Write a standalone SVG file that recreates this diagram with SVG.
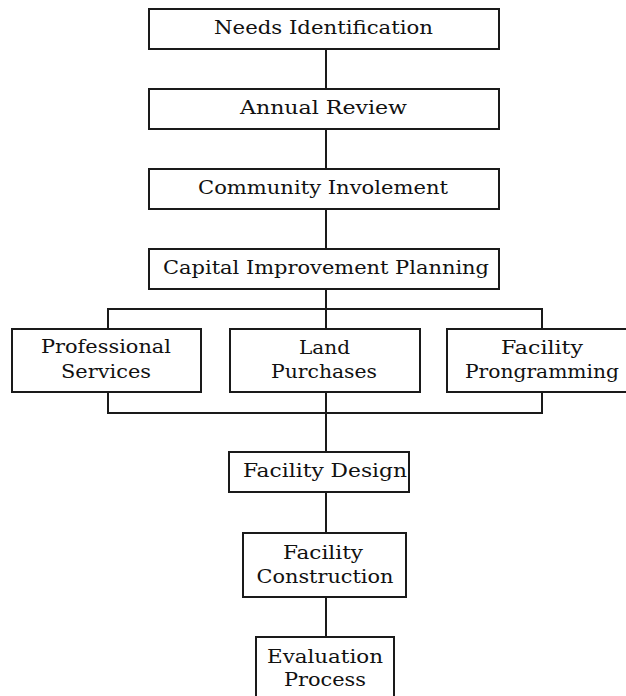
<svg xmlns="http://www.w3.org/2000/svg" width="626" height="696" viewBox="0 0 626 696">
<style>
.box{fill:#fff;stroke:#1a1a1a;stroke-width:2}
.con{fill:none;stroke:#1a1a1a;stroke-width:2}
text{font-family:"DejaVu Serif","Liberation Serif",serif;font-size:18px;fill:#111;text-anchor:middle}
</style>
<rect width="626" height="696" fill="#fff"/>
<g id="connectors">
<path class="con" d="M326 49V89M326 129V169M326 209V249M326 289V309M108 329V309H542V329M326 309V329"/>
<path class="con" d="M108 392V413H542V392M326 392V452M326 492V533M326 597V637"/>
</g>
<g id="needs"><rect class="box" x="149" y="9" width="350" height="40"/><text x="323.5" y="34" textLength="219" lengthAdjust="spacingAndGlyphs">Needs Identification</text></g>
<g id="annual"><rect class="box" x="149" y="89" width="350" height="40"/><text x="323.5" y="114" textLength="167" lengthAdjust="spacingAndGlyphs">Annual Review</text></g>
<g id="community"><rect class="box" x="149" y="169" width="350" height="40"/><text x="323" y="194" textLength="250" lengthAdjust="spacingAndGlyphs">Community Involement</text></g>
<g id="capital"><rect class="box" x="149" y="249" width="350" height="40"/><text x="326" y="274" textLength="326" lengthAdjust="spacingAndGlyphs">Capital Improvement Planning</text></g>
<g id="professional"><rect class="box" x="12" y="329" width="189" height="63"/><text x="106" y="353" textLength="130" lengthAdjust="spacingAndGlyphs">Professional</text><text x="106" y="378" textLength="90" lengthAdjust="spacingAndGlyphs">Services</text></g>
<g id="land"><rect class="box" x="230" y="329" width="190" height="63"/><text x="324.5" y="354" textLength="51" lengthAdjust="spacingAndGlyphs">Land</text><text x="324" y="378" textLength="106" lengthAdjust="spacingAndGlyphs">Purchases</text></g>
<g id="programming"><rect class="box" x="447" y="329" width="185" height="63"/><text x="542" y="354" textLength="82" lengthAdjust="spacingAndGlyphs">Facility</text><text x="542" y="378" textLength="154" lengthAdjust="spacingAndGlyphs">Prongramming</text></g>
<g id="design"><rect class="box" x="229" y="452" width="180" height="40"/><text x="325" y="477" textLength="164" lengthAdjust="spacingAndGlyphs">Facility Design</text></g>
<g id="construction"><rect class="box" x="243" y="533" width="163" height="64"/><text x="323" y="559" textLength="80" lengthAdjust="spacingAndGlyphs">Facility</text><text x="325" y="583" textLength="137" lengthAdjust="spacingAndGlyphs">Construction</text></g>
<g id="evaluation"><rect class="box" x="256" y="637" width="138" height="64"/><text x="325" y="663" textLength="116" lengthAdjust="spacingAndGlyphs">Evaluation</text><text x="325" y="686" textLength="82" lengthAdjust="spacingAndGlyphs">Process</text></g>
</svg>
